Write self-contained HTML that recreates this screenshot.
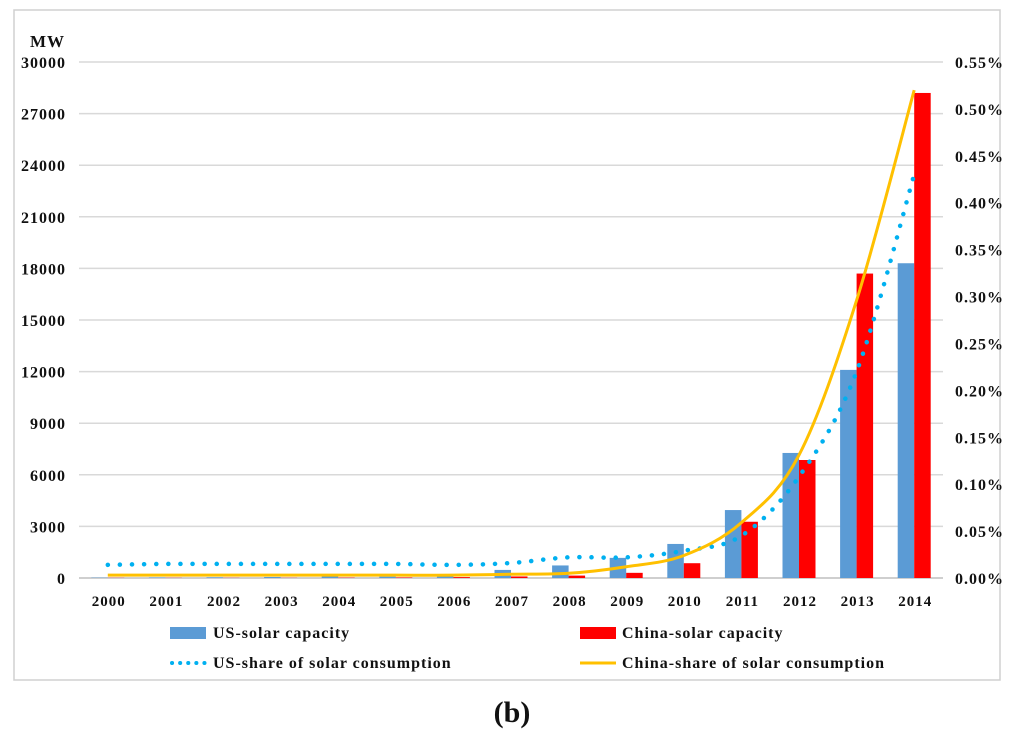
<!DOCTYPE html>
<html><head><meta charset="utf-8"><style>
body{margin:0;background:#fff;}
svg text{font-family:"Liberation Serif",serif;font-weight:bold;fill:#111;letter-spacing:1px;}
</style></head><body>
<svg id="c" width="1024" height="741">
<rect x="14" y="10" width="986" height="670" fill="none" stroke="#d0d0d0" stroke-width="1.5"/>
<text x="30" y="47" font-size="17">MW</text>
<g id="grid"></g><g id="bars"></g><g id="lines"></g><g id="axes"></g>
<g style="letter-spacing:1.3px">
<rect x="170" y="627" width="36" height="12" fill="#5b9bd5"/>
<text x="213" y="638" font-size="16">US-solar capacity</text>
<rect x="580" y="627" width="36" height="12" fill="#ff0000"/>
<text x="622" y="638" font-size="16">China-solar capacity</text>
<line x1="172" y1="663" x2="206" y2="663" stroke="#00b0f0" stroke-width="4" stroke-dasharray="0.1 8" stroke-linecap="round"/>
<text x="213" y="668" font-size="16">US-share of solar consumption</text>
<line x1="580" y1="663" x2="616" y2="663" stroke="#ffc000" stroke-width="3"/>
<text x="622" y="668" font-size="16">China-share of solar consumption</text>
</g>
<text x="512" y="722" font-size="30" text-anchor="middle" style="letter-spacing:0">(b)</text>
</svg>
<script>
const years=["2000","2001","2002","2003","2004","2005","2006","2007","2008","2009","2010","2011","2012","2013","2014"];
const usCap=[20,30,40,60,90,80,100,470,730,1170,1980,3950,7270,12100,18300];
const cnCap=[10,10,10,10,20,30,50,90,140,300,860,3270,6860,17700,28200];
const usShare=[0.014,0.015,0.015,0.015,0.015,0.015,0.014,0.016,0.022,0.022,0.029,0.045,0.108,0.22,0.43];
const cnShare=[0.003,0.003,0.003,0.003,0.003,0.003,0.003,0.004,0.005,0.012,0.024,0.059,0.131,0.296,0.52];
const leftTicks=[0,3000,6000,9000,12000,15000,18000,21000,24000,27000,30000];
const rightTicks=["0.00%","0.05%","0.10%","0.15%","0.20%","0.25%","0.30%","0.35%","0.40%","0.45%","0.50%","0.55%"];
const NS="http://www.w3.org/2000/svg";
const X0=79,X1=943,Y0=578,Y1=62;
const band=(X1-X0)/years.length;
const yL=v=>Y0-(v/30000)*(Y0-Y1);
const yR=v=>Y0-(v/0.55)*(Y0-Y1);
const xC=i=>X0+band*(i+0.5);
function mk(tag,attrs,parent){const e=document.createElementNS(NS,tag);for(const k in attrs)e.setAttribute(k,attrs[k]);document.getElementById(parent).appendChild(e);return e;}
leftTicks.forEach((t,i)=>{
  const y=yL(t);
  const g=mk("line",{x1:X0,x2:X1,y1:y,y2:y,stroke:i==0?"#bfbfbf":"#d9d9d9","stroke-width":1.5},"grid");
  
  
  const tx=mk("text",{x:66,y:y+6,"font-size":16,"text-anchor":"end"},"axes");tx.textContent=t;
  
  
});
rightTicks.forEach((t,i)=>{
  const y=yR(i*0.05);
  const tx=mk("text",{x:955,y:y+6,"font-size":16},"axes");tx.textContent=t;
  
  
});
years.forEach((yr,i)=>{
  const tx=mk("text",{x:xC(i)+1,y:606,"font-size":15,"text-anchor":"middle"},"axes");tx.textContent=yr;
  
  
  const bw=16.5;
  const b1=mk("rect",{x:xC(i)-bw,y:yL(usCap[i]),width:bw,height:Y0-yL(usCap[i]),fill:"#5b9bd5"},"bars");
  
  
  const b2=mk("rect",{x:xC(i),y:yL(cnCap[i]),width:bw,height:Y0-yL(cnCap[i]),fill:"#ff0000"},"bars");
  
  
});
function smooth(pts){let d="M"+pts[0][0]+","+pts[0][1];for(let i=0;i<pts.length-1;i++){const p0=pts[i-1]||pts[i],p1=pts[i],p2=pts[i+1],p3=pts[i+2]||p2;const c1=[p1[0]+(p2[0]-p0[0])/6,p1[1]+(p2[1]-p0[1])/6],c2=[p2[0]-(p3[0]-p1[0])/6,p2[1]-(p3[1]-p1[1])/6];d+=" C"+c1+" "+c2+" "+p2;}return d;}
const l1=mk("path",{d:smooth(usShare.map((v,i)=>[xC(i),yR(v)])),fill:"none",stroke:"#00b0f0","stroke-width":4.5,"stroke-dasharray":"0.1 12","stroke-linecap":"round"},"lines");


const l2=mk("path",{d:smooth(cnShare.map((v,i)=>[xC(i),yR(v)])),fill:"none",stroke:"#ffc000","stroke-width":3},"lines");


</script>
</body></html>
